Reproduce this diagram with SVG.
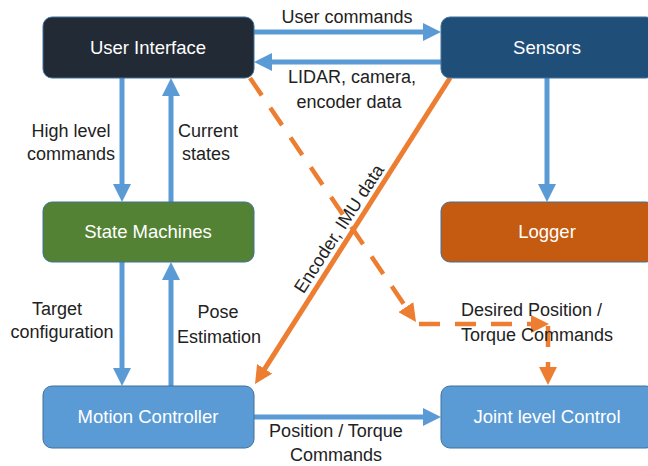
<svg xmlns="http://www.w3.org/2000/svg" width="648" height="466" viewBox="0 0 648 466">
<style>
.box{stroke:#41719C;stroke-width:1}
.nt{font-family:"Liberation Sans",Arial,sans-serif;font-size:18.5px;fill:#ffffff;text-anchor:middle}
.lb{font-family:"Liberation Sans",Arial,sans-serif;font-size:18px;fill:#222222;text-anchor:middle}
.blue{stroke:#5B9BD5;stroke-width:5;fill:none}
.org{stroke:#ED7D31;stroke-width:5;fill:none}
.dash{stroke:#ED7D31;stroke-width:4.5;fill:none;stroke-dasharray:21 15}
</style>
<defs>
<marker id="ab" markerUnits="userSpaceOnUse" markerWidth="18" markerHeight="18" viewBox="0 0 18 18" refX="10" refY="9" orient="auto"><path d="M0,0 L18,9 L0,18 z" fill="#5B9BD5"/></marker>
<marker id="ao" markerUnits="userSpaceOnUse" markerWidth="18" markerHeight="18" viewBox="0 0 18 18" refX="10" refY="9" orient="auto"><path d="M0,0 L18,9 L0,18 z" fill="#ED7D31"/></marker>
</defs>
<rect width="648" height="466" fill="#ffffff"/>
<g id="connectors">
<line class="blue" x1="254" y1="32" x2="433" y2="32" marker-end="url(#ab)"/>
<line class="blue" x1="441" y1="62" x2="262" y2="62" marker-end="url(#ab)"/>
<line class="blue" x1="122" y1="78" x2="122" y2="194" marker-end="url(#ab)"/>
<line class="blue" x1="171" y1="202" x2="171" y2="86" marker-end="url(#ab)"/>
<line class="blue" x1="122" y1="262" x2="122" y2="378" marker-end="url(#ab)"/>
<line class="blue" x1="171" y1="386" x2="171" y2="270" marker-end="url(#ab)"/>
<line class="blue" x1="547" y1="78" x2="547" y2="194" marker-end="url(#ab)"/>
<line class="blue" x1="254" y1="417" x2="433" y2="417" marker-end="url(#ab)"/>
<line class="org" x1="450" y1="78" x2="259.3" y2="377.3" marker-end="url(#ao)"/>
<line class="dash" x1="250" y1="78" x2="411.5" y2="315.4" marker-end="url(#ao)"/>
<line class="dash" x1="419" y1="324" x2="541" y2="324" marker-end="url(#ao)"/>
<line class="dash" x1="548" y1="326" x2="548" y2="377" marker-end="url(#ao)"/>
<text class="lb" x="347" y="23">User commands</text>
<text class="lb" x="352" y="83">LIDAR, camera,</text>
<text class="lb" x="349" y="108">encoder data</text>
<text class="lb" x="71" y="137">High level</text>
<text class="lb" x="71" y="160">commands</text>
<text class="lb" x="208" y="137">Current</text>
<text class="lb" x="206" y="160">states</text>
<text class="lb" x="57" y="315">Target</text>
<text class="lb" x="62" y="338">configuration</text>
<text class="lb" x="218" y="318">Pose</text>
<text class="lb" x="219" y="343">Estimation</text>
<text class="lb" x="336" y="437">Position / Torque</text>
<text class="lb" x="336" y="461">Commands</text>
<text class="lb" x="461" y="316" style="text-anchor:start">Desired Position /</text>
<text class="lb" x="461" y="341" style="text-anchor:start">Torque Commands</text>
<text class="lb" transform="translate(344,232) rotate(-57)">Encoder, IMU data</text>
</g>
<g id="user-interface"><rect class="box" x="43" y="17" width="211" height="61" rx="9" fill="#222A35"/><text class="nt" x="148" y="54">User Interface</text></g>
<g id="sensors"><rect class="box" x="441" y="17" width="214" height="61" rx="9" fill="#1F4E79"/><text class="nt" x="547" y="54">Sensors</text></g>
<g id="state-machines"><rect class="box" x="43" y="202" width="211" height="60" rx="9" fill="#548235"/><text class="nt" x="148" y="238">State Machines</text></g>
<g id="logger"><rect class="box" x="441" y="202" width="214" height="60" rx="9" fill="#C55A11"/><text class="nt" x="547" y="238">Logger</text></g>
<g id="motion-controller"><rect class="box" x="43" y="386" width="211" height="62" rx="9" fill="#5B9BD5"/><text class="nt" x="148" y="423">Motion Controller</text></g>
<g id="joint-level-control"><rect class="box" x="441" y="386" width="214" height="62" rx="9" fill="#5B9BD5"/><text class="nt" x="547" y="423">Joint level Control</text></g>
</svg>
